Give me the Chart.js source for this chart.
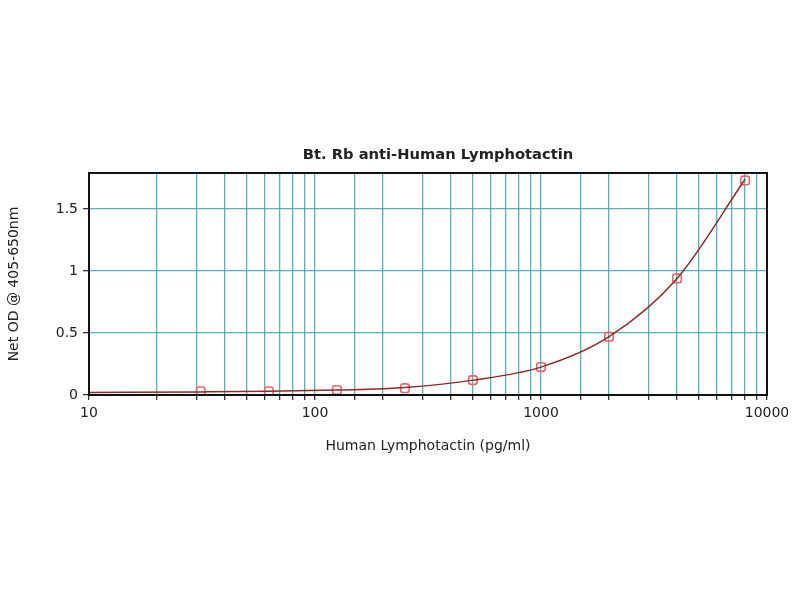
<!DOCTYPE html>
<html>
<head>
<meta charset="utf-8">
<script src="https://cdn.jsdelivr.net/npm/chart.js@4.4.1/dist/chart.umd.min.js"></script>
<style>
  body { margin:0; background:#fff; }
  canvas { display:block; }
</style>
</head>
<body>
<canvas id="c" width="800" height="600"></canvas>
<script>
// standards, pg/ml
let conc = [31.25, 62.5, 125, 250, 500, 1000, 2000, 4000, 8000];
let od = [0.03, 0.03, 0.04, 0.055, 0.12, 0.225, 0.47, 0.94, 1.73];
// fitted curve
let fitX = [10, 31.25, 62.5, 125, 250, 500, 1000, 2000, 4000, 8000];
let fitY = [0.02, 0.025, 0.03, 0.04, 0.06, 0.12, 0.225, 0.47, 0.94, 1.74];
let xTicks = [10, 100, 1000, 10000];
let yTicks = [0, 0.5, 1, 1.5];
let titleText = "Bt. Rb anti-Human Lymphotactin";

let teal = "rgba(60,165,175,0.85)";
let tickFont = { family: "DejaVu Sans", size: 14 };

let frame = {
  id: "frame",
  afterDraw(chart) {
    let a = chart.chartArea, ctx = chart.ctx;
    ctx.save();
    ctx.strokeStyle = "#111";
    ctx.lineWidth = 2;
    ctx.strokeRect(a.left, a.top, a.right - a.left, a.bottom - a.top);
    // title, centred a bit right of the plot like the original
    ctx.fillStyle = "#222";
    ctx.font = "bold 14.7px 'DejaVu Sans'";
    ctx.textAlign = "center";
    ctx.textBaseline = "middle";
    ctx.fillText(titleText, 438, 155);
    ctx.restore();
  }
};

new Chart(document.getElementById("c"), {
  type: "scatter",
  data: {
    datasets: [
      {
        label: "fit",
        data: fitX.map((x, i) => ({x, y: fitY[i]})),
        showLine: true,
        borderColor: "#8a2b2b",
        borderWidth: 1.5,
        pointRadius: 0,
        cubicInterpolationMode: "monotone"
      },
      {
        label: "std",
        data: conc.map((x, i) => ({x, y: od[i]})),
        pointStyle: "rectRounded",
        pointRadius: 5,
        borderColor: "#e06a6a",
        borderWidth: 1.6,
        backgroundColor: "rgba(0,0,0,0)"
      }
    ]
  },
  options: {
    responsive: false,
    animation: false,
    layout: { padding: { left: 6, right: 33, top: 173, bottom: 145 } },
    plugins: {
      legend: { display: false },
      tooltip: { enabled: false },
      title: { display: false }
    },
    scales: {
      x: {
        type: "logarithmic",
        min: 10, max: 10000,
        afterFit: s => { s.height = 60; },
        border: { color: "#111", width: 2 },
        grid: { color: teal, lineWidth: 1.3, tickColor: "#333", tickLength: 5 },
        ticks: {
          autoSkip: false, maxRotation: 0, padding: 5, color: "#222",
          font: tickFont,
          callback: v => xTicks.includes(v) ? String(v) : ""
        },
        title: {
          display: true, text: "Human Lymphotactin (pg/ml)", color: "#222",
          font: { family: "DejaVu Sans", size: 14 }, padding: 0
        }
      },
      y: {
        min: 0, max: 1.79,
        afterFit: s => { s.width = 83; },
        border: { color: "#111", width: 2 },
        grid: { color: teal, lineWidth: 1.3, tickColor: "#333", tickLength: 6 },
        afterBuildTicks: s => { s.ticks = yTicks.map(v => ({value: v})); },
        ticks: {
          padding: 5, color: "#222",
          font: tickFont,
          callback: v => String(v)
        },
        title: {
          display: true, text: "Net OD @ 405-650nm", color: "#222",
          font: { family: "DejaVu Sans", size: 14 }, padding: 0
        }
      }
    }
  },
  plugins: [frame]
});
</script>
</body>
</html>
